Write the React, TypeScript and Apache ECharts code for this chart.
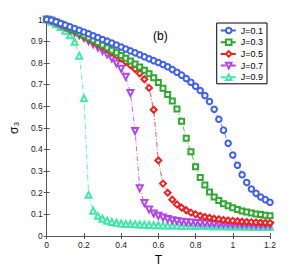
import React, { useEffect, useRef } from "react";
import * as echarts from "echarts";

const temps: number[] = [
  0, 0.025, 0.05, 0.075, 0.1, 0.125, 0.15, 0.175, 0.2, 0.225, 0.25, 0.275, 0.3, 0.325, 0.35, 0.375,
  0.4, 0.425, 0.45, 0.475, 0.5, 0.525, 0.55, 0.575, 0.6, 0.625, 0.65, 0.675, 0.7, 0.725, 0.75, 0.775,
  0.8, 0.825, 0.85, 0.875, 0.9, 0.925, 0.95, 0.975, 1.0, 1.025, 1.05, 1.075, 1.1, 1.125, 1.15, 1.175, 1.2,
];

const j01: number[] = [
  1.0, 0.997, 0.99, 0.982, 0.974, 0.966, 0.958, 0.95, 0.942, 0.934, 0.925, 0.917, 0.908, 0.9, 0.891, 0.882,
  0.873, 0.864, 0.855, 0.846, 0.837, 0.828, 0.819, 0.81, 0.801, 0.792, 0.782, 0.769, 0.756, 0.743, 0.727, 0.71,
  0.692, 0.672, 0.649, 0.621, 0.585, 0.539, 0.489, 0.428, 0.374, 0.327, 0.283, 0.247, 0.217, 0.197, 0.18, 0.168, 0.156,
];

const j03: number[] = [
  1.0, 0.996, 0.988, 0.979, 0.969, 0.959, 0.949, 0.938, 0.927, 0.916, 0.905, 0.894, 0.882, 0.87, 0.858, 0.846,
  0.834, 0.821, 0.808, 0.795, 0.781, 0.766, 0.75, 0.731, 0.709, 0.683, 0.654, 0.623, 0.587, 0.53, 0.452, 0.389,
  0.32, 0.27, 0.235, 0.203, 0.18, 0.164, 0.149, 0.14, 0.13, 0.122, 0.116, 0.111, 0.106, 0.102, 0.099, 0.096, 0.093,
];

const j05: number[] = [
  1.0, 0.995, 0.987, 0.977, 0.967, 0.956, 0.945, 0.934, 0.922, 0.91, 0.898, 0.886, 0.874, 0.861, 0.848, 0.834,
  0.82, 0.805, 0.789, 0.771, 0.751, 0.724, 0.684, 0.583, 0.349, 0.242, 0.2, 0.168, 0.146, 0.131, 0.119, 0.108,
  0.1, 0.093, 0.088, 0.084, 0.08, 0.077, 0.074, 0.072, 0.07, 0.068, 0.066, 0.065, 0.064, 0.063, 0.062, 0.061, 0.06,
];

const j07: number[] = [
  1.0, 0.994, 0.985, 0.975, 0.964, 0.952, 0.94, 0.927, 0.914, 0.9, 0.886, 0.871, 0.855, 0.838, 0.82, 0.797,
  0.772, 0.735, 0.66, 0.485, 0.22, 0.152, 0.122, 0.104, 0.093, 0.085, 0.078, 0.073, 0.069, 0.066, 0.064, 0.062,
  0.06, 0.059, 0.058, 0.057, 0.056, 0.055, 0.054, 0.054, 0.053, 0.053, 0.052, 0.052, 0.051, 0.051, 0.05, 0.05, 0.05,
];

const j09: number[] = [
  1.0, 0.99, 0.978, 0.965, 0.948, 0.927, 0.897, 0.833, 0.636, 0.19, 0.117, 0.093, 0.08, 0.071, 0.065, 0.061,
  0.058, 0.056, 0.055, 0.054, 0.053, 0.052, 0.051, 0.05, 0.05, 0.049, 0.049, 0.048, 0.048, 0.047, 0.047, 0.047,
  0.046, 0.046, 0.046, 0.045, 0.045, 0.045, 0.045, 0.044, 0.044, 0.044, 0.044, 0.044, 0.043, 0.043, 0.043, 0.043, 0.043,
];

const seriesNames: string[] = ["J=0.1", "J=0.3", "J=0.5", "J=0.7", "J=0.9"];
const seriesValues: number[][] = [j01, j03, j05, j07, j09];
const seriesColors: string[] = ["#3f5ff0", "#2fa82f", "#f02020", "#b044f0", "#3fe8a8"];
const seriesSymbols: string[] = ["emptyCircle", "emptyRect", "emptyDiamond", "emptyTriangle", "emptyTriangle"];
const seriesRotate: number[] = [0, 0, 0, 180, 0];
const seriesSizes: number[] = [5.5, 5, 6, 6, 6];

export default function App() {
  const ref = useRef<HTMLDivElement>(null);
  useEffect(() => {
    if (!ref.current) return;
    const chart = echarts.init(ref.current, undefined, { renderer: "svg" });
    const axisColor = "#555";
    const font = "Liberation Sans";
    const series = seriesNames.map((name, i) => ({
      name,
      type: "line",
      data: temps.map((t, k) => [t, seriesValues[i][k]]),
      symbol: seriesSymbols[i],
      symbolSize: seriesSizes[i],
      symbolRotate: seriesRotate[i],
      lineStyle: { color: seriesColors[i], width: 0.8, type: [5, 2, 1, 2] },
      itemStyle: { color: seriesColors[i], borderWidth: 0.9 },
      z: 10 - i,
    }));
    chart.setOption({
      animation: false,
      backgroundColor: "#fff",
      grid: { left: 38.5, right: 28, top: 19.5, bottom: 31, containLabel: false },
      title: {
        text: "(b)",
        left: 148,
        top: 25,
        textStyle: { fontSize: 12, fontWeight: "normal", fontFamily: font, color: "#000" },
      },
      legend: {
        orient: "vertical",
        right: 31,
        top: 23,
        padding: [3, 4, 2, 3],
        itemGap: 2.7,
        itemWidth: 16,
        itemHeight: 7,
        borderColor: "#000",
        borderWidth: 1,
        backgroundColor: "#fff",
        textStyle: { fontSize: 9, fontFamily: font, color: "#000", padding: [0, 0, 0, -1] },
        data: seriesNames,
      },
      xAxis: [
        {
          type: "value",
          min: 0,
          max: 1.2,
          interval: 0.2,
          name: "T",
          nameLocation: "middle",
          nameGap: 18,
          nameTextStyle: { fontSize: 12, fontFamily: font, color: "#000" },
          axisLine: { show: true, lineStyle: { color: axisColor, width: 1 } },
          axisTick: { show: true, inside: true, length: 3, lineStyle: { color: axisColor } },
          axisLabel: { fontSize: 8.5, fontFamily: font, color: "#222", margin: 4 },
          splitLine: { show: false },
        },
        {
          type: "value",
          position: "top",
          min: 0,
          max: 1.2,
          interval: 0.2,
          axisLine: { show: true, lineStyle: { color: axisColor, width: 1 } },
          axisTick: { show: true, inside: true, length: 3, lineStyle: { color: axisColor } },
          axisLabel: { show: false },
          splitLine: { show: false },
        },
      ],
      yAxis: [
        {
          type: "value",
          min: 0,
          max: 1,
          interval: 0.1,
          name: "σ₃",
          nameLocation: "middle",
          nameGap: 24,
          nameTextStyle: { fontSize: 12, fontFamily: font, color: "#000" },
          axisLine: { show: true, lineStyle: { color: axisColor, width: 1 } },
          axisTick: { show: true, inside: true, length: 3, lineStyle: { color: axisColor } },
          axisLabel: { fontSize: 8.5, fontFamily: font, color: "#222", margin: 4 },
          splitLine: { show: false },
        },
        {
          type: "value",
          position: "right",
          min: 0,
          max: 1,
          interval: 0.1,
          axisLine: { show: true, lineStyle: { color: axisColor, width: 1 } },
          axisTick: { show: true, inside: true, length: 3, lineStyle: { color: axisColor } },
          axisLabel: { show: false },
          splitLine: { show: false },
        },
      ],
      series,
    });
    return () => chart.dispose();
  }, []);
  return (
    <div
      ref={ref}
      style={{ position: "fixed", left: 0, top: 0, width: 298, height: 271, background: "#fff" }}
    />
  );
}
